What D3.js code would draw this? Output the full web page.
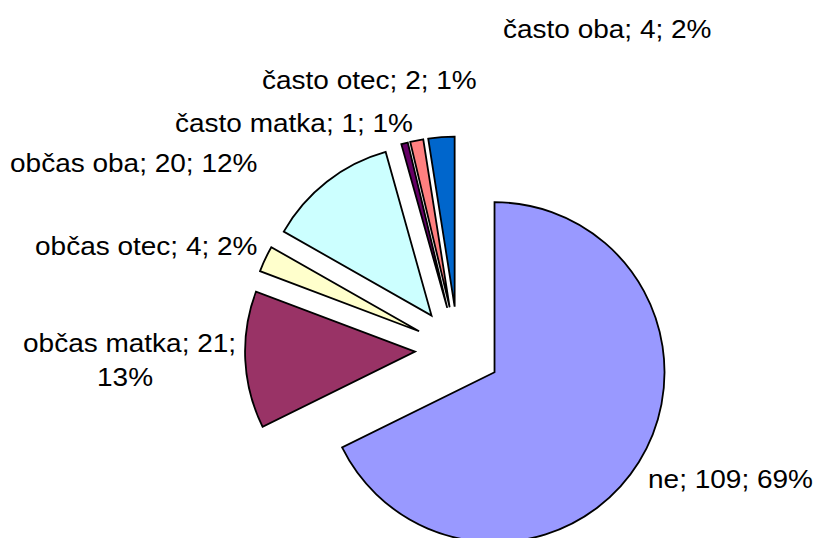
<!DOCTYPE html>
<html>
<head>
<meta charset="utf-8">
<title></title>
<style>
body { margin: 0; background: #fff; }
path.slice {
  stroke: #000;
  stroke-width: 1.8px;
  stroke-linejoin: miter;
}
text {
  fill: #000;
  font-family: "Liberation Sans", Arial, sans-serif;
  font-size: 25px;
}
</style>
</head>
<body>
<script src="https://cdnjs.cloudflare.com/ajax/libs/d3/7.8.5/d3.min.js"></script>
<script>

// data
var categories = ["ne", "občas matka", "občas otec", "občas oba", "často matka", "často otec", "často oba"];
var counts = [109, 21, 4, 20, 1, 2, 4];
var percents = ["69%", "13%", "2%", "12%", "1%", "1%", "2%"];
var colors = ["#9999FF", "#993366", "#FFFFCC", "#CCFFFF", "#660066", "#FF8080", "#0066CC"];

var width = 818,
    height = 538;

var cx = 458, cy = 349.5,
    radius = 170,
    explode = 43;

// label placement: [x, baseline y, anchor]
var labelPos = [
  [[648, 488, "start"]],
  [[23, 352, "start"], [125, 386, "middle"]],
  [[35, 255, "start"]],
  [[10, 172, "start"]],
  [[175, 132, "start"]],
  [[262, 89, "start"]],
  [[503, 38, "start"]]
];

var data = categories.map(function(c, i) {
  return {name: c, value: counts[i], pct: percents[i], color: colors[i]};
});

var svg = d3.select("body").append("svg")
    .attr("width", width)
    .attr("height", height);

var pie = d3.pie()
    .sort(null)
    .value(function(d) { return d.value; });

var arc = d3.arc()
    .innerRadius(0)
    .outerRadius(radius);

var g = svg.append("g")
    .attr("transform", "translate(" + cx + "," + cy + ")");

// every slice pulled out along its bisector
g.selectAll("path")
    .data(pie(data))
    .enter()
    .append("path")
    .attr("class", "slice")
    .style("fill", function(d) { return d.data.color; })
    .attr("transform", function(d) {
      var a = (d.startAngle + d.endAngle) / 2;
      return "translate(" + (explode * Math.sin(a)) + "," + (-explode * Math.cos(a)) + ")";
    })
    .attr("d", arc);

// labels (text is a bit wider than plain Arial in the original)
data.forEach(function(d, i) {
  var full = d.name + "; " + d.value + "; " + d.pct;
  var lines = labelPos[i].length > 1 ? [d.name + "; " + d.value + ";", d.pct] : [full];
  labelPos[i].forEach(function(p, j) {
    svg.append("text")
        .attr("transform", "translate(" + p[0] + "," + p[1] + ") scale(1.12,1)")
        .attr("text-anchor", p[2])
        .text(lines[j]);
  });
});

</script>
</body>
</html>
